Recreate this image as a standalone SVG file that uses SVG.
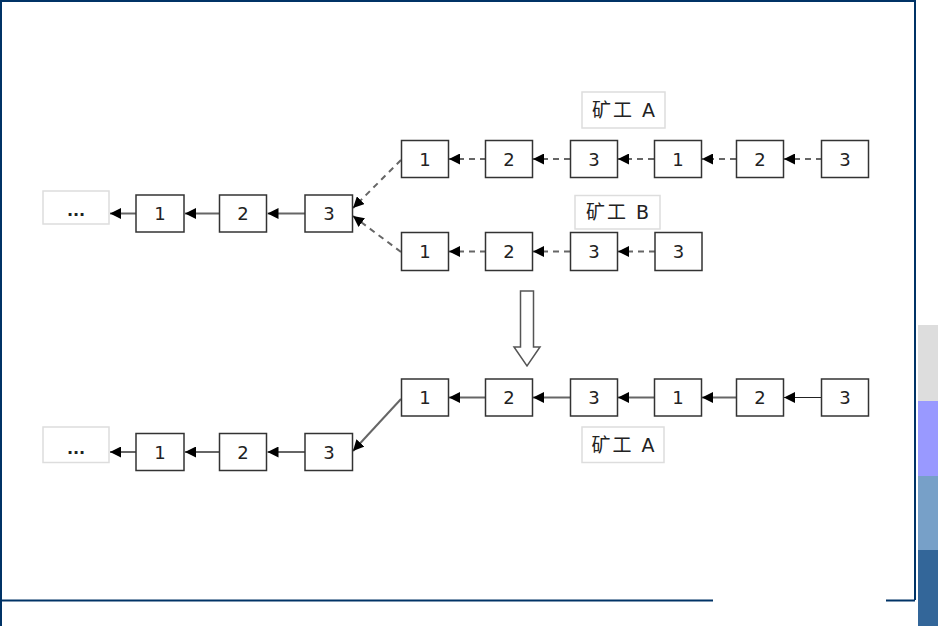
<svg xmlns="http://www.w3.org/2000/svg" width="938" height="626" viewBox="0 0 938 626">
<style>
.box{fill:#fff;stroke:#333;stroke-width:1.5}
.lbl{fill:#fff;stroke:#ddd;stroke-width:1.5}
.t{font-family:"DejaVu Sans","Noto Sans CJK SC",sans-serif;font-size:18px;fill:#222;text-anchor:middle;dominant-baseline:central}
.l{font-size:19px;letter-spacing:2px}
.d{font-weight:bold;font-size:16px}
.solid{stroke:#666;stroke-width:2;fill:none;marker-end:url(#ah)}
.thin{stroke:#222;stroke-width:1.2;fill:none;marker-end:url(#ah)}
.dash{stroke:#666;stroke-width:2;stroke-dasharray:6,5;fill:none;marker-end:url(#ah)}
.frame{stroke:#003366;stroke-width:2;fill:none}
</style>
<defs>
<marker id="ah" markerUnits="userSpaceOnUse" markerWidth="11" markerHeight="11" refX="11" refY="5.5" orient="auto">
<path d="M0,0 L11,5.5 L0,11 z" fill="#000"/>
</marker>
</defs>
<rect x="0" y="0" width="938" height="626" fill="#fff"/>
<g id="frame">
<path class="frame" d="M1,626 V1 H915 V600"/>
<path class="frame" d="M0,600.5 H713 M886,600.5 H915"/>
<rect x="918" y="325" width="20" height="76" fill="#dddddd"/>
<rect x="918" y="401" width="20" height="75" fill="#9999ff"/>
<rect x="918" y="476" width="20" height="74" fill="#77a0c8"/>
<rect x="918" y="550" width="20" height="76" fill="#336699"/>
</g>
<g id="connectors">
<line class="solid" x1="305" y1="213.5" x2="267.5" y2="213.5"/>
<line class="solid" x1="219" y1="213.5" x2="185" y2="213.5"/>
<line class="solid" x1="136" y1="213.5" x2="110" y2="213.5"/>
<line class="dash" x1="486" y1="159" x2="449" y2="159"/>
<line class="dash" x1="570" y1="159" x2="533" y2="159"/>
<line class="dash" x1="654" y1="159" x2="618" y2="159"/>
<line class="dash" x1="736" y1="159" x2="702" y2="159"/>
<line class="dash" x1="822" y1="159" x2="784" y2="159"/>
<line class="dash" x1="486" y1="251.5" x2="449" y2="251.5"/>
<line class="dash" x1="570" y1="251.5" x2="533" y2="251.5"/>
<line class="dash" x1="655" y1="251.5" x2="618" y2="251.5"/>
<line class="dash" x1="401" y1="160" x2="353" y2="208"/>
<line class="dash" x1="401" y1="252" x2="353" y2="216"/>
<line class="solid" x1="305" y1="452" x2="267.5" y2="452"/>
<line class="solid" x1="219" y1="452" x2="185" y2="452"/>
<line class="solid" x1="136" y1="452" x2="110" y2="452"/>
<line class="solid" x1="486" y1="397.5" x2="449" y2="397.5"/>
<line class="solid" x1="570" y1="397.5" x2="533" y2="397.5"/>
<line class="solid" x1="654" y1="397.5" x2="618" y2="397.5"/>
<line class="solid" x1="736" y1="397.5" x2="702" y2="397.5"/>
<line class="thin" x1="822" y1="397.5" x2="784" y2="397.5"/>
<line class="solid" x1="401" y1="399" x2="353" y2="451"/>
</g>
<g id="bigarrow">
<path d="M520.5,291 H533.5 V347 H540 L527,366 L514,347 H520.5 Z" fill="#fff" stroke="#555" stroke-width="1.5"/>
</g>
<g id="top-dots"><rect class="lbl" x="43" y="191" width="66" height="33"/><text class="t d" x="76" y="210">...</text></g>
<g id="top-l1"><rect class="box" x="136" y="195" width="48" height="37"/><text class="t" x="160" y="213.5">1</text></g>
<g id="top-l2"><rect class="box" x="219.5" y="195" width="47" height="37"/><text class="t" x="243" y="213.5">2</text></g>
<g id="top-l3"><rect class="box" x="305" y="195" width="47.5" height="37"/><text class="t" x="329" y="213.5">3</text></g>
<g id="label-a1"><rect class="lbl" x="582" y="92" width="83" height="36"/><text class="t l" x="624.5" y="110">矿工 A</text></g>
<g id="a1"><rect class="box" x="401.5" y="140.5" width="47" height="37"/><text class="t" x="425" y="159">1</text></g>
<g id="a2"><rect class="box" x="485.5" y="140.5" width="47" height="37"/><text class="t" x="509" y="159">2</text></g>
<g id="a3"><rect class="box" x="570.5" y="140.5" width="47" height="37"/><text class="t" x="594" y="159">3</text></g>
<g id="a4"><rect class="box" x="654.5" y="140.5" width="47" height="37"/><text class="t" x="678" y="159">1</text></g>
<g id="a5"><rect class="box" x="736.5" y="140.5" width="47" height="37"/><text class="t" x="760" y="159">2</text></g>
<g id="a6"><rect class="box" x="821.5" y="140.5" width="47" height="37"/><text class="t" x="845" y="159">3</text></g>
<g id="label-b"><rect class="lbl" x="575" y="195.5" width="85" height="33.5"/><text class="t l" x="618.5" y="212">矿工 B</text></g>
<g id="b1"><rect class="box" x="401.5" y="232.5" width="47" height="38"/><text class="t" x="425" y="251.5">1</text></g>
<g id="b2"><rect class="box" x="485.5" y="232.5" width="47" height="38"/><text class="t" x="509" y="251.5">2</text></g>
<g id="b3"><rect class="box" x="570.5" y="232.5" width="47" height="38"/><text class="t" x="594" y="251.5">3</text></g>
<g id="b4"><rect class="box" x="655" y="232.5" width="47" height="38"/><text class="t" x="678.5" y="251.5">3</text></g>
<g id="bot-dots"><rect class="lbl" x="43" y="427" width="66" height="35.5"/><text class="t d" x="76" y="448">...</text></g>
<g id="bot-l1"><rect class="box" x="136" y="433.5" width="48" height="37"/><text class="t" x="160" y="452">1</text></g>
<g id="bot-l2"><rect class="box" x="219.5" y="433.5" width="47" height="37"/><text class="t" x="243" y="452">2</text></g>
<g id="bot-l3"><rect class="box" x="305" y="433.5" width="47.5" height="37"/><text class="t" x="329" y="452">3</text></g>
<g id="c1"><rect class="box" x="401.5" y="379" width="47" height="37"/><text class="t" x="425" y="397.5">1</text></g>
<g id="c2"><rect class="box" x="485.5" y="379" width="47" height="37"/><text class="t" x="509" y="397.5">2</text></g>
<g id="c3"><rect class="box" x="570.5" y="379" width="47" height="37"/><text class="t" x="594" y="397.5">3</text></g>
<g id="c4"><rect class="box" x="654.5" y="379" width="47" height="37"/><text class="t" x="678" y="397.5">1</text></g>
<g id="c5"><rect class="box" x="736.5" y="379" width="47" height="37"/><text class="t" x="760" y="397.5">2</text></g>
<g id="c6"><rect class="box" x="821.5" y="379" width="47" height="37"/><text class="t" x="845" y="397.5">3</text></g>
<g id="label-a2"><rect class="lbl" x="582" y="427" width="82" height="35.5"/><text class="t l" x="624" y="445">矿工 A</text></g>
</svg>
